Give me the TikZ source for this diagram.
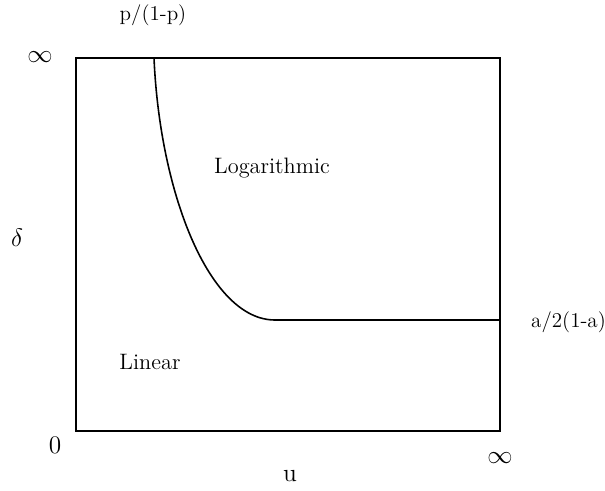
\documentclass[tikz,border=0pt]{standalone}
\usepackage{amsmath, amssymb}
\usepackage{tikz}
\usetikzlibrary{positioning,calc}

\begin{document}
\begin{tikzpicture}[
      font=\large,
      frame/.style={draw=black, line width=1.1pt},
      bound/.style={draw=black, line width=0.9pt},
      axlab/.style={font=\Large},
      region/.style={font=\fontsize{12.7}{15}\selectfont}
    ]
    \useasboundingbox (0,0) rectangle (12.1,9.8);
    % ---------------- frame ----------------
    \coordinate (O) at (1.52,1.18);
    \coordinate (T) at (10.0,8.64);
    \draw[frame] (O) rectangle (T);
    % ---------------- boundary curve ----------------
    \coordinate (top) at (3.08,8.64);
    \coordinate (knee) at (5.5,3.4);
    \coordinate (rend) at (knee -| T);
    \draw[bound] (top) .. controls (3.2,5.9) and (4.2,3.4) .. (knee) -- (rend);
    % ---------------- labels ----------------
    \node (ptop) at (3.06,9.5) {p/(1-p)};
    \node[anchor=west] (arit) at ($(rend)+(0.5,-0.04)$) {a/2(1-a)};
    \node[axlab] (yinf) at (0.8,8.66) {$\infty$};
    \node[axlab] (delta) at (0.34,5.04) {$\delta$};
    \node[axlab] (zero) at (1.1,0.9) {$0$};
    \node[axlab] (xinf) at (10.0,0.64) {$\infty$};
    \node[axlab] (mu) at (5.8,0.28) {u};
    \node[region] (logr) at (5.44,6.44) {Logarithmic};
    \node[region] (linr) at (3.0,2.56) {Linear};
  \end{tikzpicture}
\end{document}
